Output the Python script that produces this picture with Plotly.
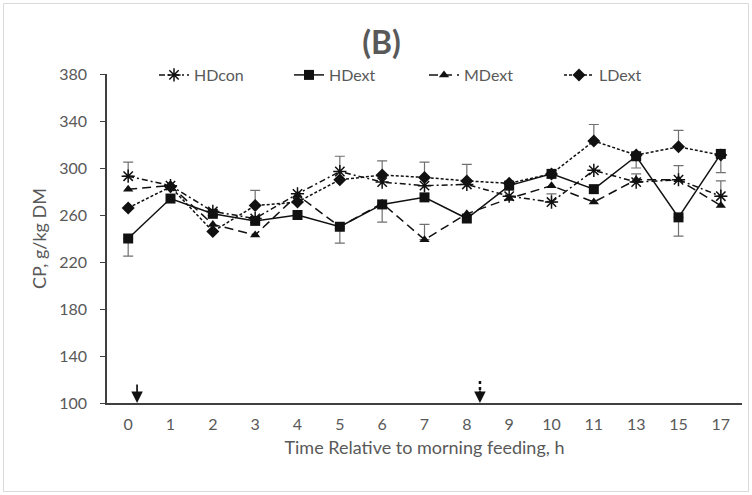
import plotly.graph_objects as go

# Sampling times (h relative to morning feeding)
hours = ["0", "1", "2", "3", "4", "5", "6", "7", "8", "9", "10", "11", "13", "15", "17"]

# Crude protein, g/kg DM
hdcon = [293, 285, 263, 257, 278, 297, 288, 285, 286, 276, 271, 298, 288, 290, 276]
hdext = [240, 274, 261, 255, 260, 250, 269, 275, 257, 285, 295, 282, 310, 258, 312]
mdext = [282, 285, 252, 243, 277, 250, 270, 239, 261, 274, 285, 271, 290, 290, 268]
ldext = [266, 284, 246, 268, 271, 290, 294, 292, 289, 287, 295, 323, 311, 318, 311]

# SEM bars (upper / lower), None where no bar is shown
hdcon_up = [12, None, None, None, None, 13, None, None, None, None, 7, None, 7, 12, 13]
hdcon_dn = [None] * 15
hdext_up = [None] * 15
hdext_dn = [15, None, None, None, None, 14, 15, None, None, None, None, None, 10, 16, 16]
mdext_up = [None, None, None, None, None, None, None, 13, None, None, None, None, None, None, None]
mdext_dn = [None] * 15
ldext_up = [None, None, None, 13, None, None, 12, 13, 14, None, None, 14, None, 14, None]
ldext_dn = [None] * 15

# Feeding events marked with arrows (position on the category scale)
feed_am = 0.21
feed_pm = 8.31

TEXT = "#595959"
AXIS = "#404040"
FONT = "Lato"

series = [
    ("HDcon", hdcon, hdcon_up, hdcon_dn,
     dict(symbol="asterisk-open", size=11, line=dict(color="#111", width=1.5)), "6px,3px,2px,3px"),
    ("HDext", hdext, hdext_up, hdext_dn,
     dict(symbol="square", size=10, color="#111"), "solid"),
    ("MDext", mdext, mdext_up, mdext_dn,
     dict(symbol="triangle-up", size=9, color="#111"), "9px,5px"),
    ("LDext", ldext, ldext_up, ldext_dn,
     dict(symbol="diamond", size=10, color="#111"), "3px,2px"),
]

fig = go.Figure()

# Error bars first so that the markers sit on top of them
for name, vals, up, dn, mk, dash in series:
    idx = [i for i in range(len(hours)) if up[i] is not None or dn[i] is not None]
    if not idx:
        continue
    fig.add_trace(go.Scatter(
        x=[hours[i] for i in idx],
        y=[vals[i] for i in idx],
        mode="markers",
        marker=dict(size=1, opacity=0),
        showlegend=False,
        hoverinfo="skip",
        error_y=dict(
            type="data",
            symmetric=False,
            array=[up[i] or 0 for i in idx],
            arrayminus=[dn[i] or 0 for i in idx],
            color="#707070",
            thickness=1.2,
            width=5,
        ),
    ))

for name, vals, up, dn, mk, dash in series:
    fig.add_trace(go.Scatter(
        x=hours, y=vals, name=name,
        mode="lines+markers",
        line=dict(color="#111", width=1.5, dash=dash),
        marker=mk,
    ))

# Feeding arrows: solid for the morning meal, dotted for the afternoon meal
fig.add_annotation(x=feed_am, y=100, xref="x", yref="y", ax=0, ay=-20,
                   showarrow=True, arrowhead=2, arrowsize=1.35, arrowwidth=1.7,
                   arrowcolor="#111", text="")
fig.add_shape(type="line", xref="x", yref="y", x0=feed_pm, x1=feed_pm, y0=111, y1=119,
              line=dict(color="#111", width=2.5, dash="dot"))
fig.add_annotation(x=feed_pm, y=100, xref="x", yref="y", ax=0, ay=-14,
                   showarrow=True, arrowhead=2, arrowsize=1.35, arrowwidth=1.7,
                   arrowcolor="#111", text="")

# Chart-area border
L, R, T, B = 107, 742, 74, 403
def px_x(p):
    return (p - L) / (R - L)
def px_y(p):
    return (B - p) / (B - T)
fig.add_shape(type="rect", xref="paper", yref="paper",
              x0=px_x(3.5), x1=px_x(748.5), y0=px_y(3.5), y1=px_y(491.5),
              line=dict(color="#d9d9d9", width=1), fillcolor="rgba(0,0,0,0)", layer="below")

fig.update_layout(
    width=752, height=495,
    margin=dict(l=L, r=752 - R, t=T, b=495 - B),
    paper_bgcolor="white", plot_bgcolor="white",
    font=dict(family=FONT, color=TEXT, size=16),
    title=dict(text="<b>(B)</b>", x=381.5 / 752, xanchor="center", y=1 - 43 / 495, yanchor="middle",
               font=dict(family=FONT, size=32, color=TEXT)),
    legend=dict(orientation="h", x=px_x(154), xanchor="left", y=px_y(75), yanchor="middle",
                entrywidth=90, entrywidthmode="pixels",
                font=dict(family=FONT, size=16, color=TEXT), bgcolor="rgba(0,0,0,0)",
                itemclick=False),
    xaxis=dict(type="category", categoryorder="array", categoryarray=hours,
               range=[-0.5, len(hours) - 0.5],
               showline=True, linecolor=AXIS, linewidth=1.5, ticks="",
               ticklabelstandoff=6,
               showgrid=False, zeroline=False,
               tickfont=dict(family=FONT, size=16, color=TEXT),
               title=dict(text="Time Relative to morning feeding, h", standoff=9,
                          font=dict(family=FONT, size=18, color=TEXT))),
    yaxis=dict(range=[100, 380], tickvals=[100, 140, 180, 220, 260, 300, 340, 380],
               showline=True, linecolor=AXIS, linewidth=1.5,
               ticks="outside", ticklen=5, tickcolor=AXIS, tickwidth=1.2,
               ticklabelstandoff=10,
               showgrid=False, zeroline=False,
               tickfont=dict(family=FONT, size=16, color=TEXT),
               title=dict(text="CP, g/kg DM", standoff=8,
                          font=dict(family=FONT, size=18, color=TEXT))),
)

fig.write_html("out.html")
